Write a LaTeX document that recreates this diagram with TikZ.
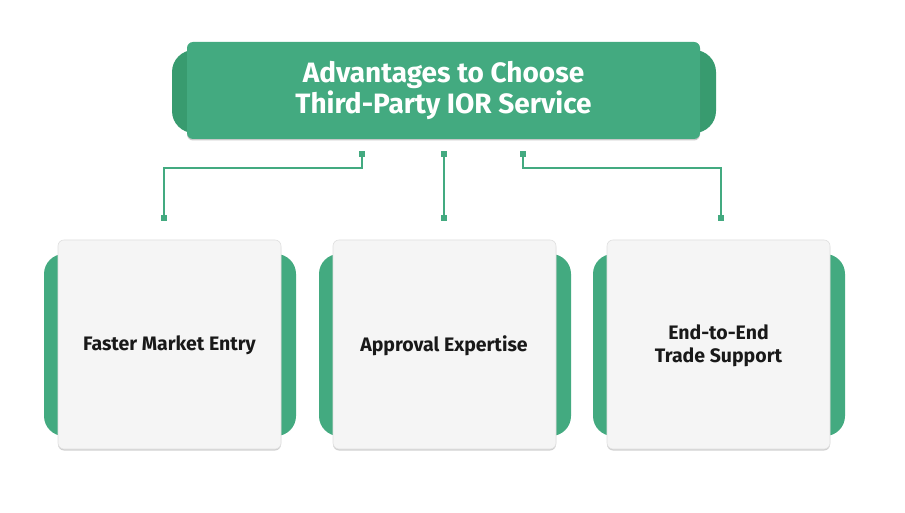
\documentclass[tikz,border=0pt]{standalone}
\usepackage{fontspec}
\setmainfont{Fira Sans}
\usetikzlibrary{shadows}
\definecolor{grn}{HTML}{43AA80}
\definecolor{dgrn}{HTML}{389B6F}
\definecolor{card}{HTML}{F5F5F5}
\tikzset{
  backpill/.style={fill=dgrn, rounded corners=22pt},
  sidepill/.style={fill=grn, rounded corners=20pt},
  titlebox/.style={fill=grn, rounded corners=6pt, drop shadow={shadow xshift=0pt, shadow yshift=-1.5pt, opacity=0.35, fill=black!60}},
  cardbox/.style={fill=card, draw=black!12, line width=0.6pt, rounded corners=6pt, drop shadow={shadow xshift=0pt, shadow yshift=-1.5pt, opacity=0.3, fill=black!60}},
  conn/.style={draw=grn, line width=1.6pt},
  dot/.style={fill=grn, minimum size=6pt, inner sep=0pt, outer sep=0pt},
  cardtext/.style={font=\fontsize{19.5}{23}\selectfont\bfseries, text=black!90, align=center},
}
\begin{document}
\begin{tikzpicture}[x=1pt,y=-1pt]
\useasboundingbox[fill=white] (0,0) rectangle (905,513);
% title
\fill[backpill] (172,50) rectangle (716,133);
\path[titlebox] (187,42) rectangle (700,139);
\node[font=\fontsize{28}{31}\selectfont\bfseries, text=white, align=center] (title) at (443.5,90) {Advantages to Choose\\Third-Party IOR Service};
% connectors
\node[dot] (t1) at (362,154) {};
\node[dot] (t2) at (444,154) {};
\node[dot] (t3) at (523,154) {};
\node[dot] (b1) at (164,218) {};
\node[dot] (b2) at (444,218) {};
\node[dot] (b3) at (721,218) {};
\draw[conn] (t1.center) |- (164,168) -- (b1.center);
\draw[conn] (t2.center) -- (b2.center);
\draw[conn] (t3.center) |- (721,168) -- (b3.center);
\node[dot] at (t1) {};\node[dot] at (t2) {};\node[dot] at (t3) {};
\node[dot] at (b1) {};\node[dot] at (b2) {};\node[dot] at (b3) {};
% cards
\foreach \x in {58,333,607}{
  \fill[sidepill] (\x-14,254) rectangle (\x+238,436);
  \path[cardbox] (\x,240) rectangle (\x+223,449);
}
\node[cardtext] (c1) at (169.5,345.5) {Faster Market Entry};
\node[cardtext] (c2) at (444,345.5) {Approval Expertise};
\node[cardtext] (c3) at (718.5,345.5) {End-to-End\\Trade Support};
\end{tikzpicture}
\end{document}
